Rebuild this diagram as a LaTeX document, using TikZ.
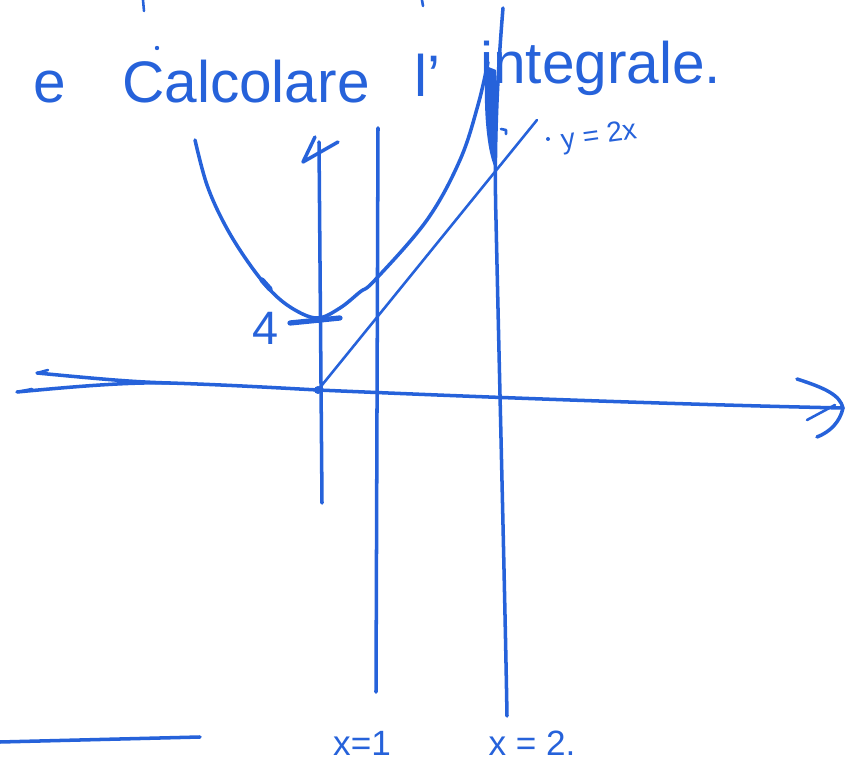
\documentclass[tikz,border=0pt]{standalone}
\usepackage{fontspec}
\setmainfont{Liberation Sans}
\begin{document}
\begin{tikzpicture}[x=0.03cm,y=-0.03cm,
  ink/.style={draw=inkblue,line width=3pt,line cap=round,line join=round},
  thin/.style={draw=inkblue,line width=2.2pt,line cap=round,line join=round},
  hand/.style={text=inkblue,inner sep=0pt},
  bigtext/.style={hand,font=\fontsize{50}{55}\selectfont},
  lab/.style={hand,font=\fontsize{30}{34}\selectfont}]
\definecolor{inkblue}{RGB}{38,98,218}
\useasboundingbox (0,0) rectangle (855,766);
% heading
\node[bigtext,anchor=base west] (e) at (33,103) {e};
\node[bigtext,anchor=base west] (calc) at (122,103) {Calcolare};
\node[bigtext,anchor=base west] (lap) at (414,97) {l'};
\node[bigtext,anchor=base west] (integ) at (480,84) {integrale.};
% fragments of the line above
\draw[thin] (143,0) -- (144,11);
\draw[thin] (422,0) -- (423,6);
\fill[inkblue] (157,48) circle (2.2);
% coordinates
\coordinate (O) at (318,390);
\coordinate (ytop) at (319,142);
\coordinate (ybot) at (322,503);
\coordinate (x1top) at (378,128);
\coordinate (x1bot) at (376,692);
\coordinate (x2top) at (503,8);
\coordinate (x2bot) at (507,716);
\coordinate (xend) at (843,408);
\coordinate (lineEnd) at (537,120);
% y-axis
\draw[ink] (ytop) -- (ybot);
\draw[ink] (315,137) -- (303,162) -- (338,142);
% x-axis (double hand stroke)
\draw[ink] (17,392) .. controls (80,386) and (130,382) .. (170,383)
  .. controls (230,385) and (280,388) .. (O)
  .. controls (500,398) and (700,405) .. (xend);
\draw[ink] (37,373) .. controls (90,378) and (130,382) .. (170,383);
\draw[thin] (37,373) -- (48,370);
\draw[thin] (17,392) -- (32,389);
\draw[ink] (797,379) .. controls (825,388) and (840,395) .. (xend);
\draw[ink] (xend) .. controls (840,422) and (830,432) .. (817,437);
\draw[thin] (807,420) -- (835,405);
% vertical lines x=1, x=2
\draw[ink] (x1top) -- (x1bot);
\draw[ink] (x2top) .. controls (497,80) and (494,150) .. (496,220)
  .. controls (500,400) and (505,600) .. (x2bot);
% parabola
\draw[ink] plot[smooth,tension=0.6] coordinates {(195,140) (207,185) (225,225) (248,262) (272,292) (295,310) (318,318) (340,308) (360,292) (375,280) (427,220) (460,160) (478,105) (488,62)};
\draw[ink,line width=4.5pt] (262,280) -- (270,289);
\draw[ink,line width=4.5pt] (290,323) -- (340,318);
% shaded sliver
\fill[inkblue] (486,66) .. controls (483,100) and (486,150) .. (495,168)
  .. controls (499,130) and (497,90) .. (496,70) -- cycle;
% y = 2x
\draw[thin] (O) -- (lineEnd);
\fill[inkblue] (O) circle (4);
\draw[thin] (501,129) -- (506,130) -- (506,134);
\fill[inkblue] (548,139) circle (2);
\node[hand,font=\fontsize{24}{28}\selectfont,rotate=8] (lab2x) at (599,137) {y = 2x};
% labels
\node[hand,font=\fontsize{40}{44}\selectfont] (four) at (266,328) {4};
\node[lab] (lx1) at (362,743) {x=1};
\node[lab] (lx2) at (532,743) {x = 2.};
% stray line bottom left
\coordinate (s1) at (0,742);
\coordinate (s2) at (200,737);
\draw[ink] (s1) -- (s2);
\end{tikzpicture}
\end{document}
